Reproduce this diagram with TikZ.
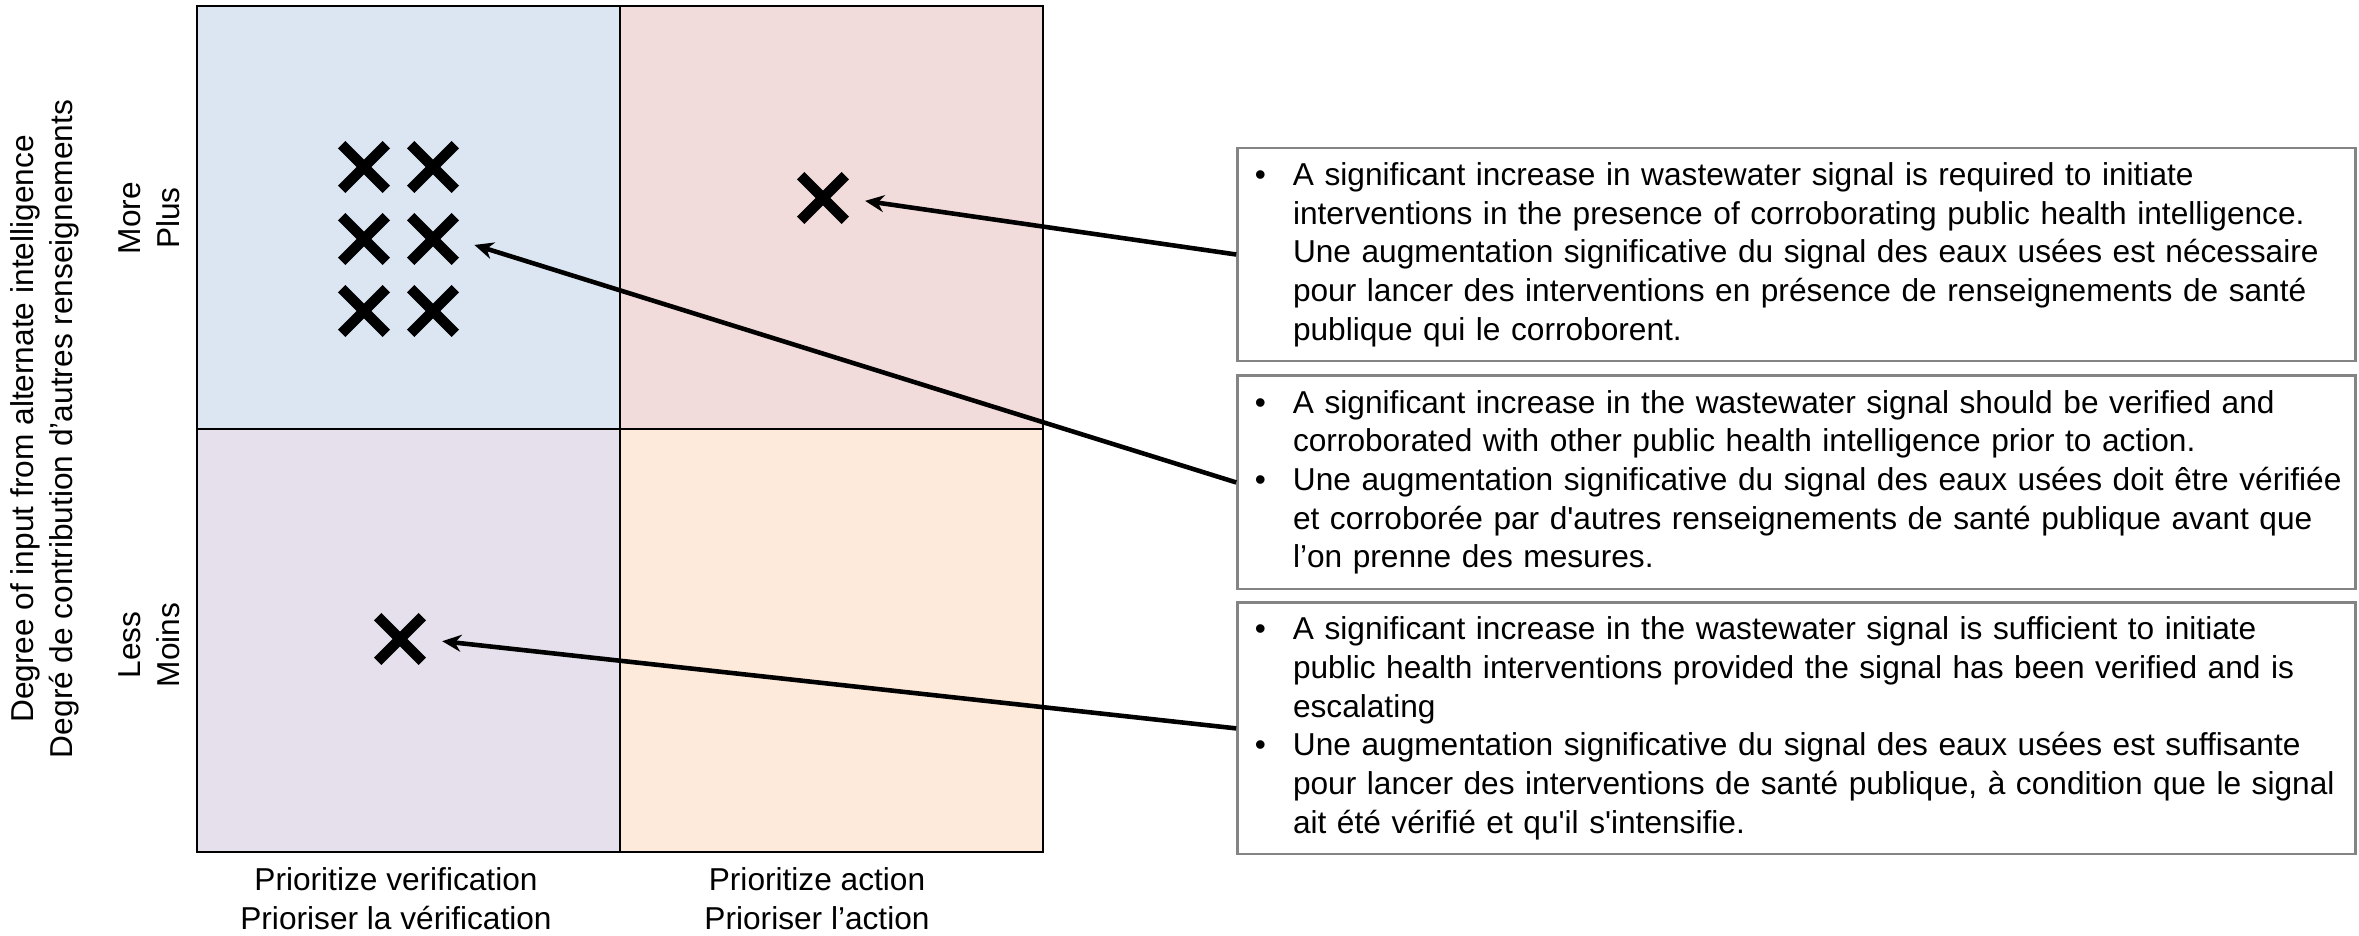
\documentclass[tikz,border=0pt]{standalone}
\usepackage{fontspec}
\setmainfont{Liberation Sans}
\usepackage{tikz}
\usetikzlibrary{shapes.misc, arrows.meta, positioning}

\definecolor{qblue}{HTML}{DCE6F2}
\definecolor{qred}{HTML}{F2DCDB}
\definecolor{qpurple}{HTML}{E6E0EC}
\definecolor{qorange}{HTML}{FDEADA}
\definecolor{boxgray}{HTML}{848484}
\newcommand{\bul}{\leavevmode\llap{\textbullet\hspace{0.27cm}}}

\begin{document}
\begin{tikzpicture}[
    x=0.01cm, y=-0.01cm,
    every node/.style={font=\fontsize{9}{11}\selectfont},
    quad/.style={
        rectangle, draw=black, line width=0.6pt,
        minimum size=4.23cm, inner sep=0pt
    },
    xmark/.style={cross out, draw=black, line width=3pt, minimum size=0.34cm, inner sep=0pt},
    descbox/.style={
        rectangle, draw=boxgray, line width=0.8pt,
        minimum width=11.17cm, minimum height=2.13cm, inner sep=0pt
    },
    desctext/.style={text width=10.7cm, align=left, inner sep=0pt, anchor=west},
    arrow/.style={-{Stealth[length=0.19cm, width=0.17cm]}, line width=1.3pt, shorten >=0.2cm}
]
    \useasboundingbox (0,0) rectangle (2359,936);

    \node[quad, fill=qblue]   (Q1) at (408.5, 217.5) {};
    \node[quad, fill=qred]    (Q2) at (831.5, 217.5) {};
    \node[quad, fill=qpurple] (Q3) at (408.5, 640.5) {};
    \node[quad, fill=qorange] (Q4) at (831.5, 640.5) {};

    \node[rotate=90, align=center] (ylab) at (44.5, 429) {Degree of input from alternate intelligence\\Degré de contribution d’autres renseignements};
    \node[rotate=90, align=center] (more) at (149, 218) {More\\Plus};
    \node[rotate=90, align=center] (less) at (149, 645) {Less\\Moins};
    \node[align=center] (verif)  at (396, 899) {Prioritize verification\\Prioriser la vérification};
    \node[align=center] (action) at (817, 899) {Prioritize action\\Prioriser l’action};

    \foreach \c/\x in {1/364, 2/433} {
        \foreach \r/\y in {1/167, 2/239, 3/311} {
            \node[xmark] (X\c\r) at (\x, \y) {};
        }
    }
    \node[xmark] (XA) at (823, 198) {};
    \node[xmark] (XL) at (400, 639) {};

    \node[descbox] (D1) at (1796.5, 254.5) {};
    \node[descbox, below=0.12cm of D1] (D2) {};
    \node[descbox, minimum height=2.51cm, below=0.11cm of D2] (D3) {};

    \node[desctext] (T1) at ([xshift=0.56cm]D1.west) {\bul A significant increase in wastewater signal is required to initiate\\
        interventions in the presence of corroborating public health intelligence.\\
        Une augmentation significative du signal des eaux usées est nécessaire\\
        pour lancer des interventions en présence de renseignements de santé\\
        publique qui le corroborent.};
    \node[desctext] (T2) at ([xshift=0.56cm]D2.west) {\bul A significant increase in the wastewater signal should be verified and\\
        corroborated with other public health intelligence prior to action.\\
        \bul Une augmentation significative du signal des eaux usées doit être vérifiée\\
        et corroborée par d\textquotesingle autres renseignements de santé publique avant que\\
        l’on prenne des mesures.};
    \node[desctext] (T3) at ([xshift=0.56cm]D3.west) {\bul A significant increase in the wastewater signal is sufficient to initiate\\
        public health interventions provided the signal has been verified and is\\
        escalating\\
        \bul Une augmentation significative du signal des eaux usées est suffisante\\
        pour lancer des interventions de santé publique, à condition que le signal\\
        ait été vérifié et qu\textquotesingle il s\textquotesingle intensifie.};

    \foreach \i/\j in {D1/XA, D2/X22, D3/XL} {
        \draw[arrow] (\i.west) -- (\j.east);
    }
\end{tikzpicture}
\end{document}
